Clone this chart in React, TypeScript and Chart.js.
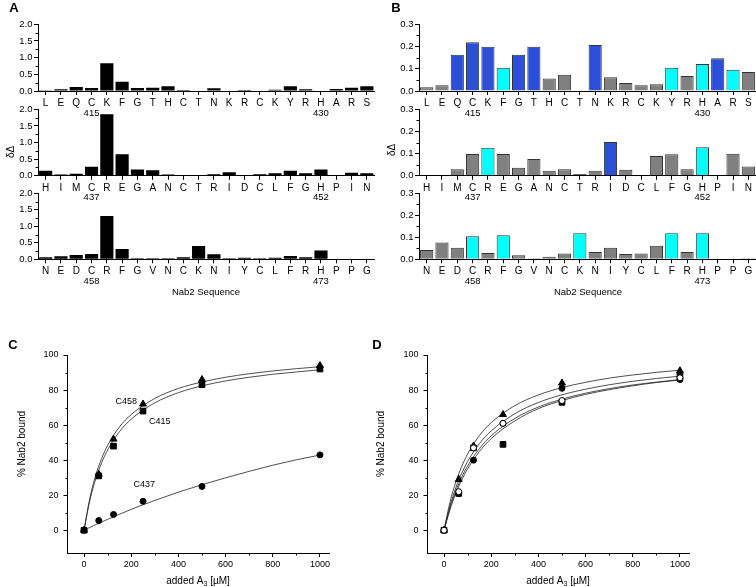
import React, { useEffect, useRef } from "react";
import { Chart, registerables } from "chart.js";
Chart.register(...registerables);

const W = 756;
const H = 587;
const FONT = '"Liberation Sans", Arial, Helvetica, sans-serif';

// ---------------- DATA ----------------
// Panel A / B sequence rows
const seqRow1 = ["L","E","Q","C","K","F","G","T","H","C","T","N","K","R","C","K","Y","R","H","A","R","S"];
const seqRow2 = ["H","I","M","C","R","E","G","A","N","C","T","R","I","D","C","L","F","G","H","P","I","N"];
const seqRow3 = ["N","E","D","C","R","F","G","V","N","C","K","N","I","Y","C","L","F","R","H","P","P","G"];
const markIndex = [3, 18];
const marksRow1 = ["415", "430"];
const marksRow2 = ["437", "452"];
const marksRow3 = ["458", "473"];

// Panel A values (δΔ)
const aRow1 = [0.01,0.05,0.12,0.09,0.83,0.28,0.09,0.1,0.14,0.03,0,0.08,0,0.03,0,0.04,0.14,0.05,0,0.06,0.1,0.14];
const aRow2 = [0.15,0.04,0.06,0.27,1.85,0.65,0.19,0.17,0.04,0.02,0.01,0.05,0.11,0.02,0.05,0.08,0.15,0.08,0.19,0,0.09,0.08];
const aRow3 = [0.06,0.09,0.13,0.16,1.31,0.31,0.03,0.03,0.03,0.06,0.4,0.15,0.03,0.05,0.03,0.05,0.1,0.06,0.27,0,0,0.02];
const aTicks = [0, 0.5, 1.0, 1.5, 2.0];

// Panel B values (δΔ) and class per residue: g = gray, b = blue, c = cyan
const bRow1 = [0.017,0.026,0.163,0.219,0.199,0.105,0.163,0.199,0.056,0.073,0,0.207,0.062,0.036,0.026,0.03,0.105,0.067,0.121,0.147,0.096,0.085];
const bClass1 = ["g","g","b","b","b","c","b","b","g","g","g","b","g","g","g","g","c","g","c","b","c","g"];
const bRow2 = [0,0,0.03,0.098,0.126,0.098,0.036,0.076,0.023,0.03,0.008,0.023,0.153,0.027,0,0.089,0.097,0.03,0.129,0,0.1,0.042];
const bClass2 = ["g","g","g","g","c","g","g","g","g","g","g","g","b","g","g","g","g","g","c","g","g","g"];
const bRow3 = [0.042,0.076,0.053,0.105,0.029,0.109,0.018,0.005,0.012,0.026,0.118,0.033,0.053,0.024,0.026,0.062,0.118,0.033,0.118,0,0,0.005];
const bClass3 = ["g","g","g","c","g","c","g","g","g","g","c","g","g","g","g","g","c","g","c","g","g","g"];
const bTicks = [0, 0.1, 0.2, 0.3];

// Panel C / D binding data (% Nab2 bound vs added A3 µM)
const conc = [0, 62.5, 125, 250, 500, 1000];
const cC415 = [0, 31, 48, 68, 83, 92];
const cC437 = [0, 5.5, 9, 16.5, 25, 43];
const cC458 = [0, 32, 52, 72, 86, 94];
const fitConc = [0, 25, 50, 75, 100, 150, 200, 300, 400, 500, 600, 700, 800, 900, 1000];
const fitC458 = [0, 18.5, 31.5, 41, 48.4, 58.9, 66, 75.2, 80.9, 84.6, 87.3, 89.3, 90.9, 92.2, 93.3];
const fitC415 = [0, 17.2, 29.4, 38.6, 45.8, 56.2, 63.4, 72.7, 78.5, 82.4, 85.2, 87.3, 89, 90.3, 91.6];
const fitC437 = [0, 1.6, 3.2, 4.7, 6.2, 9.1, 11.9, 17, 21.7, 26, 29.9, 33.6, 37.1, 40.2, 42.9];

const dTri = [0, 29, 48, 66, 84, 91];
const dSq = [0, 21, 47, 49, 73, 88];
const dCirc = [0, 21, 40, 61, 81, 86];
const dOpen = [0, 22, 47, 61, 74, 87];
const fitD1 = [0, 15.9, 27.5, 36.4, 43.5, 54, 61.4, 71.1, 77.2, 81.4, 84.4, 86.8, 88.6, 90.1, 91.3];
const fitD2 = [0, 13.7, 24.3, 32.5, 39.2, 49.4, 56.7, 66.5, 72.9, 77.3, 80.5, 83, 85, 86.6, 87.9];
const fitD3 = [0, 12.6, 22.4, 30.3, 36.7, 46.6, 53.9, 63.8, 70.3, 74.8, 78.2, 80.8, 82.9, 84.5, 86];
const fitD4 = [0, 11.6, 21, 28.6, 35, 44.9, 52.3, 62.4, 69.4, 74, 77.5, 80.2, 82.4, 84.3, 85.7];
const xTicksBind = [0, 200, 400, 600, 800, 1000];
const yTicksBind = [0, 20, 40, 60, 80, 100];

// ---------------- STYLE ----------------
const classColor: Record<string, string> = { g: "#808080", b: "#2b4fd8", c: "#00ffff" };

type TextItem = { t: string | { s: string; sub?: boolean }[]; x: number; y: number; size?: number; bold?: boolean; rot?: boolean; align?: CanvasTextAlign };
type DataText = { t: string; vx: number; vy: number; align?: CanvasTextAlign };
type Rect = { l: number; t: number; r: number; b: number };

function drawText(ctx: CanvasRenderingContext2D, it: TextItem) {
  const size = it.size || 10;
  ctx.save();
  ctx.translate(it.x, it.y);
  if (it.rot) ctx.rotate(-Math.PI / 2);
  ctx.fillStyle = "#000";
  ctx.textBaseline = "middle";
  const f = (s: number) => `${it.bold ? "bold " : ""}${s}px ${FONT}`;
  if (typeof it.t === "string") {
    ctx.font = f(size);
    ctx.textAlign = it.align || "center";
    ctx.fillText(it.t, 0, 0);
  } else {
    const parts = it.t;
    let total = 0;
    for (const p of parts) {
      ctx.font = f(p.sub ? size * 0.7 : size);
      total += ctx.measureText(p.s).width;
    }
    let x = -total / 2;
    ctx.textAlign = "left";
    for (const p of parts) {
      ctx.font = f(p.sub ? size * 0.7 : size);
      ctx.fillText(p.s, x, p.sub ? size * 0.3 : 0);
      x += ctx.measureText(p.s).width;
    }
  }
  ctx.restore();
}

function extras(spec: { minorY?: number[]; minorX?: number[]; marks?: string[]; markDy?: number; texts?: TextItem[]; dataTexts?: DataText[] }) {
  return {
    id: "extras",
    afterDraw(chart: any) {
      const ctx: CanvasRenderingContext2D = chart.ctx;
      const a = chart.chartArea;
      const sx = chart.scales.x;
      const sy = chart.scales.y;
      ctx.save();
      ctx.strokeStyle = "#000";
      ctx.lineWidth = 1;
      (spec.minorY || []).forEach((v) => {
        const y = Math.round(sy.getPixelForValue(v)) + 0.5;
        ctx.beginPath();
        ctx.moveTo(Math.round(a.left) - 2.5, y);
        ctx.lineTo(Math.round(a.left), y);
        ctx.stroke();
      });
      (spec.minorX || []).forEach((v) => {
        const x = Math.round(sx.getPixelForValue(v)) + 0.5;
        ctx.beginPath();
        ctx.moveTo(x, Math.round(a.bottom));
        ctx.lineTo(x, Math.round(a.bottom) + 2.5);
        ctx.stroke();
      });
      ctx.fillStyle = "#000";
      ctx.font = `9.5px ${FONT}`;
      ctx.textAlign = "center";
      ctx.textBaseline = "middle";
      (spec.marks || []).forEach((m, i) => {
        const x = sx.getPixelForValue(markIndex[i]);
        ctx.fillText(m, x, a.bottom + (spec.markDy || 22));
      });
      ctx.restore();
      (spec.dataTexts || []).forEach((d) => {
        drawText(ctx, { t: d.t, x: sx.getPixelForValue(d.vx), y: sy.getPixelForValue(d.vy), size: 9, align: d.align });
      });
      (spec.texts || []).forEach((it) => drawText(ctx, it));
    },
  };
}

function barConfig(p: { rect: Rect; labels: string[]; values: number[]; colors: string[]; border: string; bw: number; yTicks: number[]; minor: number[]; marks: string[]; texts?: TextItem[] }) {
  const xh = 30;
  const yMax = p.yTicks[p.yTicks.length - 1];
  const step = p.yTicks[1] - p.yTicks[0];
  return {
    type: "bar",
    data: {
      labels: p.labels,
      datasets: [
        {
          data: p.values,
          backgroundColor: p.colors,
          borderColor: p.border,
          borderWidth: p.bw,
          borderSkipped: "start",
          barPercentage: 0.86,
          categoryPercentage: 1,
        },
      ],
    },
    options: {
      responsive: false,
      animation: false,
      events: [],
      layout: { padding: { left: 0, top: p.rect.t, right: W - p.rect.r, bottom: H - p.rect.b - xh } },
      plugins: { legend: { display: false }, tooltip: { enabled: false } },
      scales: {
        x: {
          type: "category",
          offset: true,
          grid: { offset: false, drawOnChartArea: false, drawTicks: true, tickLength: 4, color: "#000", lineWidth: 1 },
          border: { display: true, color: "#000", width: 1 },
          ticks: { font: { family: FONT, size: 10 }, color: "#000", padding: 2, autoSkip: false, maxRotation: 0, minRotation: 0 },
          afterFit: (s: any) => { s.height = xh; },
        },
        y: {
          type: "linear",
          min: 0,
          max: yMax,
          grid: { drawOnChartArea: false, drawTicks: true, tickLength: 4, color: "#000", lineWidth: 1 },
          border: { display: true, color: "#000", width: 1 },
          ticks: { stepSize: step, font: { family: FONT, size: 9.5 }, color: "#000", padding: 1.5, callback: (v: any) => Number(v).toFixed(1) },
          afterFit: (s: any) => { s.width = p.rect.l; },
        },
      },
    },
    plugins: [extras({ minorY: p.minor, marks: p.marks, markDy: 22, texts: p.texts })],
  };
}

function pts(xs: number[], ys: number[]) {
  return xs.map((x, i) => ({ x, y: ys[i] }));
}

function marker(data: number[], style: string, radius: number, fill: string) {
  return {
    data: pts(conc, data),
    pointStyle: style,
    pointRadius: radius,
    pointBackgroundColor: fill,
    pointBorderColor: "#000",
    pointBorderWidth: 1,
    showLine: false,
  };
}

function curve(data: number[]) {
  return {
    data: pts(fitConc, data),
    showLine: true,
    pointRadius: 0,
    borderColor: "#222",
    borderWidth: 0.8,
    cubicInterpolationMode: "monotone",
    fill: false,
  };
}

function bindConfig(p: { rect: Rect; datasets: any[]; texts: TextItem[]; dataTexts?: DataText[] }) {
  const xh = 20;
  return {
    type: "scatter",
    data: { datasets: p.datasets },
    options: {
      responsive: false,
      animation: false,
      events: [],
      layout: { padding: { left: 0, top: p.rect.t, right: W - p.rect.r, bottom: H - p.rect.b - xh } },
      plugins: { legend: { display: false }, tooltip: { enabled: false } },
      scales: {
        x: {
          type: "linear",
          min: -70,
          max: 1040,
          grid: { drawOnChartArea: false, drawTicks: true, tickLength: 4, color: "#000", lineWidth: 1 },
          border: { display: true, color: "#000", width: 1 },
          ticks: { stepSize: xTicksBind[1] - xTicksBind[0], includeBounds: false, font: { family: FONT, size: 9 }, color: "#000", padding: 2, maxRotation: 0, callback: (v: any) => String(v) },
          afterFit: (s: any) => { s.height = xh; },
        },
        y: {
          type: "linear",
          min: -13,
          max: yTicksBind[yTicksBind.length - 1],
          grid: { drawOnChartArea: false, drawTicks: true, tickLength: 4, color: "#000", lineWidth: 1 },
          border: { display: true, color: "#000", width: 1 },
          ticks: { stepSize: yTicksBind[1] - yTicksBind[0], includeBounds: false, font: { family: FONT, size: 9 }, color: "#000", padding: 5, callback: (v: any) => String(v) },
          afterFit: (s: any) => { s.width = p.rect.l; },
        },
      },
    },
    plugins: [
      extras({
        minorY: [10, 30, 50, 70, 90],
        minorX: [100, 300, 500, 700, 900],
        texts: p.texts,
        dataTexts: p.dataTexts,
      }),
    ],
  };
}

// ---------------- LAYOUT ----------------
const rows = [
  { t: 24.3, b: 91 },
  { t: 109.3, b: 175.8 },
  { t: 193.3, b: 259.3 },
];
const aL = 38, aR = 374.5, bL = 419, bR = 756;

const minorA = [0.25, 0.75, 1.25, 1.75];
const minorB = [0.05, 0.15, 0.25];

const xTitle = (cx: number): TextItem => ({ t: [{ s: "added A" }, { s: "3", sub: true }, { s: " [µM]" }], x: cx, y: 581, size: 10 });

function ChartCanvas({ build }: { build: () => any }) {
  const ref = useRef<HTMLCanvasElement>(null);
  useEffect(() => {
    const chart = new Chart(ref.current as HTMLCanvasElement, build());
    return () => chart.destroy();
  }, []);
  return (
    <canvas
      ref={ref}
      width={W}
      height={H}
      style={{ position: "absolute", left: 0, top: 0, width: W, height: H }}
    />
  );
}

export default function App() {
  const seqs = [seqRow1, seqRow2, seqRow3];
  const aVals = [aRow1, aRow2, aRow3];
  const bVals = [bRow1, bRow2, bRow3];
  const bCls = [bClass1, bClass2, bClass3];
  const marks = [marksRow1, marksRow2, marksRow3];

  const builders: (() => any)[] = [];
  for (let i = 0; i < 3; i++) {
    builders.push(() =>
      barConfig({
        rect: { l: aL, r: aR, t: rows[i].t, b: rows[i].b },
        labels: seqs[i],
        values: aVals[i],
        colors: aVals[i].map(() => "#000"),
        border: "#000",
        bw: 0,
        yTicks: aTicks,
        minor: minorA,
        marks: marks[i],
        texts:
          i === 0
            ? [
                { t: "A", x: 14, y: 8, size: 13, bold: true },
                { t: "δΔ", x: 11, y: 152, size: 10, rot: true },
                { t: "Nab2 Sequence", x: 206, y: 292, size: 9.5 },
              ]
            : [],
      })
    );
    builders.push(() =>
      barConfig({
        rect: { l: bL, r: bR, t: rows[i].t, b: rows[i].b },
        labels: seqs[i],
        values: bVals[i],
        colors: bCls[i].map((c) => classColor[c]),
        border: "#333",
        bw: 1,
        yTicks: bTicks,
        minor: minorB,
        marks: marks[i],
        texts:
          i === 0
            ? [
                { t: "B", x: 396, y: 8, size: 13, bold: true },
                { t: "δΔ", x: 392, y: 150, size: 10, rot: true },
                { t: "Nab2 Sequence", x: 588, y: 292, size: 9.5 },
              ]
            : [],
      })
    );
  }

  builders.push(() =>
    bindConfig({
      rect: { l: 67.5, r: 329.4, t: 355, b: 553 },
      datasets: [
        marker(cC458, "triangle", 4, "#000"),
        marker(cC415, "rect", 4, "#000"),
        marker(cC437, "circle", 3, "#000"),
        curve(fitC458),
        curve(fitC415),
        curve(fitC437),
      ],
      texts: [
        { t: "C", x: 13, y: 345, size: 13, bold: true },
        { t: "% Nab2 bound", x: 22, y: 444, size: 10, rot: true },
        xTitle(198),
      ],
      dataTexts: [
        { t: "C458", vx: 225, vy: 73.5, align: "right" },
        { t: "C415", vx: 275, vy: 62, align: "left" },
        { t: "C437", vx: 255, vy: 26 },
      ],
    })
  );
  builders.push(() =>
    bindConfig({
      rect: { l: 427.5, r: 689.4, t: 355, b: 553 },
      datasets: [
        marker(dOpen, "circle", 3, "#fff"),
        marker(dTri, "triangle", 4, "#000"),
        marker(dSq, "rect", 4, "#000"),
        marker(dCirc, "circle", 3, "#000"),
        curve(fitD1),
        curve(fitD2),
        curve(fitD3),
        curve(fitD4),
      ],
      texts: [
        { t: "D", x: 377, y: 345, size: 13, bold: true },
        { t: "% Nab2 bound", x: 381, y: 444, size: 10, rot: true },
        xTitle(558),
      ],
    })
  );

  return (
    <div style={{ position: "absolute", left: 0, top: 0, width: W, height: H, background: "#fff" }}>
      {builders.map((b, i) => (
        <ChartCanvas key={i} build={b} />
      ))}
    </div>
  );
}
